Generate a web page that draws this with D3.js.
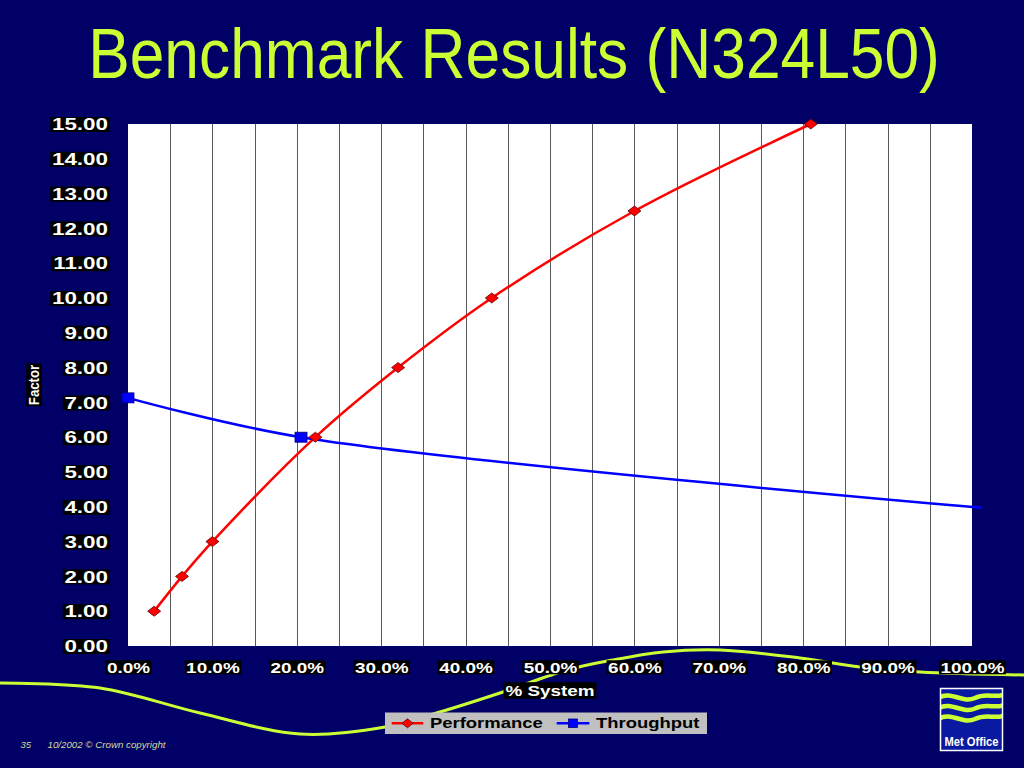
<!DOCTYPE html>
<html><head><meta charset="utf-8">
<script src="https://cdn.jsdelivr.net/npm/d3@7"></script>
<style>html,body{margin:0;padding:0;background:#000066;overflow:hidden}</style>
</head><body>
<svg id="c" width="1024" height="768"></svg>
<script>
// ---------- data ----------
const titleText = "Benchmark Results (N324L50)";
const seriesNames = ["Performance", "Throughput"];
const perfX = [3.1, 6.4, 10.0, 22.2, 32.0, 43.1, 60.0, 80.9];
const perfY = [1.0, 2.0, 3.0, 6.0, 8.0, 10.0, 12.5, 15.0];
const thrX = [0, 20.5, 101.2];
const thrY = [7.13, 6.0, 3.97];
const thrMarker = [true, true, false];
const yTickValues = [0,1,2,3,4,5,6,7,8,9,10,11,12,13,14,15];
const xTickValues = [0,10,20,30,40,50,60,70,80,90,100];
const gridValues = [5,10,15,20,25,30,35,40,45,50,55,60,65,70,75,80,85,90,95];
const xTitle = "% System";
const yTitle = "Factor";
const footerPage = "35";
const footerText = "10/2002 \u00A9 Crown copyright";
const logoText = "Met Office";

// ---------- setup ----------
const W = 1024, H = 768;
const BG = "#000066", LIME = "#CCFF33";
const svg = d3.select("#c");
svg.append("rect").attr("width", W).attr("height", H).attr("fill", BG);

// decorative swoosh
const swoosh = [[0,683],[100,688],[200,713],[300,734],[385,727],[440,712],[503,692],[567,670],[613,660],[663,652],[720,650],[800,658],[860,667],[920,672],[1024,675]];
svg.append("path")
  .attr("d", d3.line().curve(d3.curveCatmullRom)(swoosh))
  .attr("fill", "none").attr("stroke", LIME).attr("stroke-width", 3);

// title (condensed by horizontal scale)
svg.append("g").attr("transform", "translate(514,78)")
  .append("text").attr("text-anchor", "middle")
  .attr("transform", "scale(0.89,1)")
  .attr("font-family", "Liberation Sans, Arial, sans-serif")
  .attr("font-size", 70).attr("fill", LIME)
  .text(titleText);

const x = d3.scaleLinear().domain([0, 100]).range([128, 972]);
const y = d3.scaleLinear().domain([0, 15]).range([646, 124]);

// plot area
svg.append("rect").attr("x", x(0)).attr("y", y(15))
  .attr("width", x(100) - x(0)).attr("height", y(0) - y(15)).attr("fill", "#fff");

svg.append("g").selectAll("line").data(gridValues).join("line")
  .attr("x1", d => Math.round(x(d)) + 0.5).attr("x2", d => Math.round(x(d)) + 0.5)
  .attr("y1", y(0)).attr("y2", y(15))
  .attr("stroke", "#5a5a5a").attr("stroke-width", 1);

// helper: black box behind text
function addBox(sel, padX, halfH) {
  sel.each(function () {
    const bb = this.getBBox();
    d3.select(this.parentNode).insert("rect", () => this)
      .attr("x", bb.x - padX).attr("y", -halfH)
      .attr("width", bb.width + 2 * padX).attr("height", 2 * halfH)
      .attr("transform", d3.select(this).attr("transform"))
      .attr("fill", "#000");
  });
}

// y axis
const yAxis = svg.append("g").attr("transform", `translate(${x(0)},0)`)
  .call(d3.axisLeft(y).tickValues(yTickValues).tickFormat(d3.format(".2f")).tickSize(0).tickPadding(0));
yAxis.select(".domain").remove();
yAxis.selectAll("text")
  .attr("x", null).attr("dy", "0.36em")
  .attr("transform", "translate(-20,0) scale(1.4,1)")
  .attr("font-family", "Liberation Sans, Arial, sans-serif")
  .attr("font-weight", "bold").attr("font-size", 16).attr("fill", "#fff");
addBox(yAxis.selectAll("text"), 1.2, 7.5);

// x axis
const xAxis = svg.append("g").attr("transform", `translate(0,${y(0)})`)
  .call(d3.axisBottom(x).tickValues(xTickValues).tickFormat(d => d3.format(".1f")(d) + "%").tickSize(0).tickPadding(0));
xAxis.select(".domain").remove();
xAxis.selectAll("text")
  .attr("y", null).attr("dy", "0.36em")
  .attr("transform", "translate(0,21.3) scale(1.26,1)")
  .attr("font-family", "Liberation Sans, Arial, sans-serif")
  .attr("font-weight", "bold").attr("font-size", 15).attr("fill", "#fff");
addBox(xAxis.selectAll("text"), 1.2, 7);

// axis titles
const xt = svg.append("g").attr("transform", "translate(550,690.5)");
xt.append("text").attr("text-anchor", "middle").attr("dy", "0.36em")
  .attr("transform", "scale(1.26,1)")
  .attr("font-family", "Liberation Sans, Arial, sans-serif")
  .attr("font-weight", "bold").attr("font-size", 15).attr("fill", "#fff").text(xTitle);
addBox(xt.selectAll("text"), 1.5, 8.3);

const yt = svg.append("g").attr("transform", "translate(34,385) rotate(-90)");
yt.append("text").attr("text-anchor", "middle").attr("dy", "0.36em")
  .attr("transform", "scale(0.88,1)")
  .attr("font-family", "Liberation Sans, Arial, sans-serif")
  .attr("font-weight", "bold").attr("font-size", 15).attr("fill", "#fff").text(yTitle);
addBox(yt.selectAll("text"), 1, 7.8);

// series
const perf = perfX.map((v, i) => ({x: v, y: perfY[i]}));
const thr = thrX.map((v, i) => ({x: v, y: thrY[i], m: thrMarker[i]}));
const line = d3.line().x(d => x(d.x)).y(d => y(d.y)).curve(d3.curveCatmullRom.alpha(0.5));

svg.append("path").attr("d", line(perf)).attr("fill", "none")
  .attr("stroke", "#FF0000").attr("stroke-width", 2.5);
svg.append("path").attr("d", line(thr)).attr("fill", "none")
  .attr("stroke", "#0000FF").attr("stroke-width", 2.5);

const diamond = (w, h) => `M0,${-h/2}L${w/2},0L0,${h/2}L${-w/2},0Z`;
svg.append("g").selectAll("path").data(perf).join("path")
  .attr("transform", d => `translate(${x(d.x)},${y(d.y)})`)
  .attr("d", diamond(13, 10))
  .attr("fill", "#FF0000").attr("stroke", "#600000").attr("stroke-width", 0.8);
svg.append("g").selectAll("rect").data(thr.filter(d => d.m)).join("rect")
  .attr("x", d => x(d.x) - 6).attr("y", d => y(d.y) - 5)
  .attr("width", 12).attr("height", 10)
  .attr("fill", "#0000FF").attr("stroke", "#000080").attr("stroke-width", 0.8);

// legend
const lg = svg.append("g");
lg.append("rect").attr("x", 385).attr("y", 712.5).attr("width", 322).attr("height", 21.5).attr("fill", "#C0C0C0");
const legendItems = [
  {name: seriesNames[0], color: "#FF0000", x0: 391.7, x1: 423.3, tx: 430, shape: "d"},
  {name: seriesNames[1], color: "#0000FF", x0: 556.7, x1: 589.3, tx: 596, shape: "s"}
];
legendItems.forEach(it => {
  lg.append("line").attr("x1", it.x0).attr("x2", it.x1).attr("y1", 723.3).attr("y2", 723.3)
    .attr("stroke", it.color).attr("stroke-width", 2.5);
  const cx = (it.x0 + it.x1) / 2;
  if (it.shape === "d") {
    lg.append("path").attr("transform", `translate(${cx},723.3)`).attr("d", diamond(11, 9))
      .attr("fill", it.color).attr("stroke", "#600000").attr("stroke-width", 0.8);
  } else {
    lg.append("rect").attr("x", cx - 4.5).attr("y", 719).attr("width", 9).attr("height", 8.5)
      .attr("fill", it.color).attr("stroke", "#000080").attr("stroke-width", 0.8);
  }
  lg.append("text").attr("transform", `translate(${it.tx},728.3) scale(1.23,1)`)
    .attr("font-family", "Liberation Sans, Arial, sans-serif")
    .attr("font-weight", "bold").attr("font-size", 15).attr("fill", "#000").text(it.name);
});

// footer
svg.append("text").attr("x", 20.5).attr("y", 748)
  .attr("font-family", "Liberation Sans, Arial, sans-serif").attr("font-style", "italic")
  .attr("font-size", 9.5).attr("fill", "#D4DC9C").text(footerPage);
svg.append("text").attr("x", 47.5).attr("y", 748)
  .attr("font-family", "Liberation Sans, Arial, sans-serif").attr("font-style", "italic")
  .attr("font-size", 9.5).attr("fill", "#D4DC9C")
  .attr("textLength", 118).attr("lengthAdjust", "spacingAndGlyphs").text(footerText);

// logo
const logo = svg.append("g");
logo.append("clipPath").attr("id", "lc").append("rect").attr("x", 940.5).attr("y", 688.5).attr("width", 62).attr("height", 62);
logo.append("rect").attr("x", 940.5).attr("y", 688.5).attr("width", 62).attr("height", 62)
  .attr("fill", "#0A1AA0");
const wg = logo.append("g").attr("clip-path", "url(#lc)");
[697, 707.5, 718].forEach(yb => {
  wg.append("path")
    .attr("d", `M938,${yb+1} C952,${yb-7} 962,${yb+7} 975,${yb+1} C987,${yb-5} 995,${yb+2} 1005,${yb-3}`)
    .attr("fill", "none").attr("stroke", LIME).attr("stroke-width", 4.5);
});
logo.append("rect").attr("x", 940.5).attr("y", 688.5).attr("width", 62).attr("height", 62)
  .attr("fill", "none").attr("stroke", "#fff").attr("stroke-width", 1.5);
logo.append("text").attr("x", 971.5).attr("y", 745.5).attr("text-anchor", "middle")
  .attr("font-family", "Liberation Sans, Arial, sans-serif").attr("font-weight", "bold")
  .attr("font-size", 13).attr("fill", "#fff")
  .attr("textLength", 54).attr("lengthAdjust", "spacingAndGlyphs").text(logoText);
</script>
</body></html>
